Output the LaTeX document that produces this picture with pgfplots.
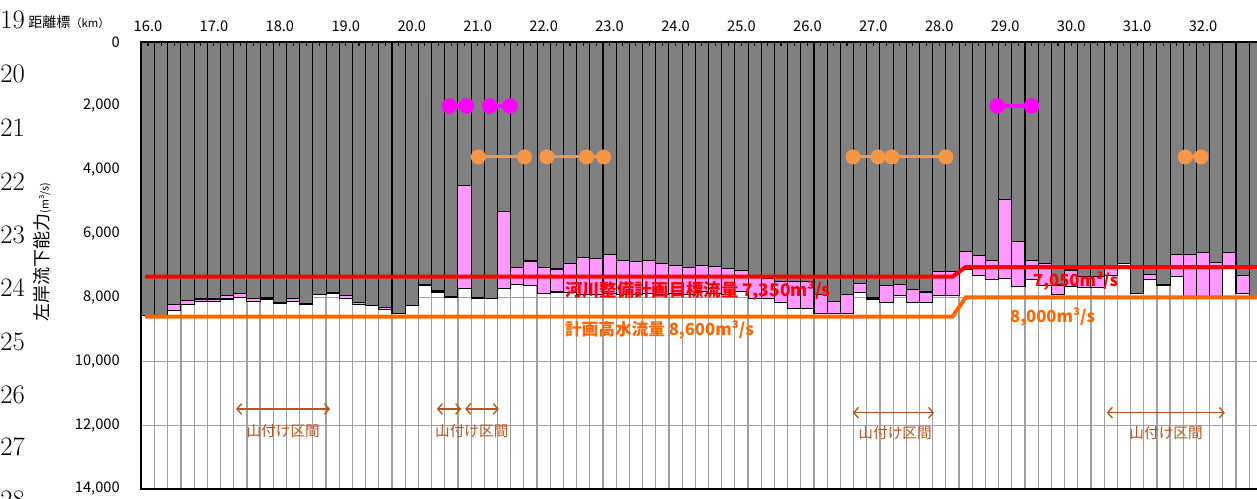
\documentclass[border=0pt]{standalone}
\usepackage{fontspec}
\setmainfont{Noto Sans CJK JP}
\newfontfamily\lmr{Latin Modern Roman}
\usepackage{pgfplots}
\usepackage{pgfplotstable}
\pgfplotsset{compat=1.18}
\usetikzlibrary{arrows.meta}

\definecolor{barGray}{HTML}{808080}
\definecolor{barPink}{HTML}{FF99FF}
\definecolor{gridGray}{HTML}{A0A0A0}
\definecolor{lineRed}{HTML}{FF0000}
\definecolor{lineOrange}{HTML}{FF6600}
\definecolor{dotOrange}{HTML}{F79646}
\definecolor{dotMagenta}{HTML}{FF00FF}
\definecolor{noteBrown}{HTML}{B8541C}

\pgfplotsset{
  /pgfplots/layers/barsunder/.define layer set={
    axis background,axis grid,main,axis ticks,axis lines,axis tick labels,
    axis descriptions,axis foreground
  }{/pgfplots/layers/standard},
}

% km, bottom of grey bar (g), bottom of pink bar (p)
\pgfplotstableread{
km g p
16.0 8580 8580
16.2 8600 8600
16.4 8230 8410
16.6 8100 8230
16.8 8050 8140
17.0 8050 8140
17.2 7950 8050
17.4 7890 8000
17.6 8040 8140
17.8 7990 8050
18.0 8170 8200
18.2 8040 8130
18.4 8180 8230
18.6 7900 7900
18.8 7850 7880
19.0 7950 8040
19.2 8170 8230
19.4 8260 8260
19.6 8310 8390
19.8 8500 8500
20.0 8250 8250
20.2 7600 7640
20.4 7770 7830
20.6 7960 7990
20.8 4490 7715
21.0 8010 8040
21.2 8040 8040
21.4 5300 7715
21.6 7060 7590
21.8 6860 7630
22.0 7060 7870
22.2 7110 7830
22.4 6930 7850
22.6 6740 7900
22.8 6790 7900
23.0 6650 7880
23.2 6830 7900
23.4 6880 7920
23.6 6830 7880
23.8 6930 7900
24.0 6990 7880
24.2 7060 7900
24.4 6990 7820
24.6 7040 7880
24.8 7100 7900
25.0 7150 7820
25.2 7350 8030
25.4 7400 8030
25.6 7510 8160
25.8 7510 8340
26.0 7510 8340
26.2 7920 8500
26.4 8130 8500
26.6 7920 8500
26.8 7560 7850
27.0 8000 8050
27.2 7640 8170
27.4 7600 7940
27.6 7740 8150
27.8 7830 8160
28.0 7200 7950
28.2 7200 7950
28.4 6560 7120
28.6 6700 7320
28.8 6840 7450
29.0 4930 7400
29.2 6240 7670
29.4 6850 7450
29.6 6930 7620
29.8 7610 7920
30.0 7140 7660
30.2 7330 7680
30.4 7330 7680
30.6 7090 7300
30.8 6930 6930
31.0 7870 7870
31.2 7280 7450
31.4 7610 7610
31.6 6670 7350
31.8 6670 7960
32.0 6600 7960
32.2 6910 7960
32.4 6600 7090
32.6 7300 7870
32.8 7990 7990
}\capdata

\begin{document}
\begin{tikzpicture}
% one reference pixel = 0.75pt; y runs downward as negative
\foreach \n/\yy in {19/-15,20/-55.5,21/-96,22/-136.5,23/-176.25,24/-216,25/-256.5,26/-296.25,27/-335.25,28/-375}
  \node[anchor=west, inner sep=0pt, font=\lmr\fontsize{20}{24}\selectfont] at (0pt,\yy pt) {\n};

\node[anchor=west, inner sep=0pt, font=\fontsize{10.5}{12}\selectfont] at (21pt,-16.5pt)
  {距離標{\fontsize{8.5}{10}\selectfont（km）}};
\node[rotate=90, inner sep=0pt, font=\fontsize{13.5}{15}\selectfont] at (31.5pt,-189pt)
  {左岸流下能力{\fontsize{8}{9}\selectfont(m³/s)}};

\begin{axis}[
  at={(105.75pt,-31.5pt)}, anchor=north west,
  scale only axis, width=840.75pt, height=335.25pt,
  set layers=barsunder,
  xmin=15.894, xmax=32.894, ymin=0, ymax=14000, y dir=reverse,
  ybar, bar width=0.2, bar shift=0pt,
  axis line style={black, line width=1.2pt},
  xtick={16,...,32}, minor x tick num=4,
  xtick pos=upper, xticklabel pos=upper,
  tick align=inside, major tick length=3pt, minor tick length=3pt,
  xtick style={black, line width=0.8pt},
  ytick={0,2000,...,14000}, ytick style={draw=none}, scaled y ticks=false,
  ymajorgrids, grid style={draw=gridGray, line width=0.9pt},
  extra x ticks={15.9,16.1,...,32.9}, extra x tick labels={},
  extra x tick style={grid=major, major tick length=0pt, tick style={draw=none}},
  x tick label style={font=\fontsize{11}{12}\selectfont, anchor=south, inner sep=0pt, yshift=7.5pt,
    /pgf/number format/fixed, /pgf/number format/fixed zerofill,
    /pgf/number format/precision=1, /pgf/number format/assume math mode=true},
  y tick label style={font=\fontsize{11}{12}\selectfont, anchor=east, inner sep=0pt, xshift=-15.75pt,
    /pgf/number format/1000 sep={,}, /pgf/number format/assume math mode=true},
]
\addplot[fill=barPink, draw=black, line width=0.8pt] table[x=km, y=p] {\capdata};
\addplot[fill=barGray, draw=black, line width=0.8pt] table[x=km, y=g] {\capdata};

% target flows
\addplot[sharp plot, lineRed, line width=3pt] coordinates {(15.955,7350) (28.2,7350) (28.4,7050) (32.9,7050)};
\addplot[sharp plot, lineOrange, line width=3pt] coordinates {(15.955,8600) (28.2,8600) (28.4,8000) (32.9,8000)};

% magenta and orange dot ranges
\addplot[sharp plot, dotMagenta, line width=2.6pt, mark=*, mark size=4.5pt, mark options={draw=none, fill=dotMagenta}]
  coordinates {(20.57,2000) (20.83,2000)};
\addplot[sharp plot, dotMagenta, line width=2.6pt, mark=*, mark size=4.5pt, mark options={draw=none, fill=dotMagenta}]
  coordinates {(21.18,2000) (21.49,2000)};
\addplot[sharp plot, dotMagenta, line width=2.6pt, mark=*, mark size=4.5pt, mark options={draw=none, fill=dotMagenta}]
  coordinates {(28.88,2000) (29.40,2000)};
\addplot[sharp plot, dotOrange, line width=2.2pt, mark=*, mark size=4.5pt, mark options={draw=none, fill=dotOrange}]
  coordinates {(21.01,3600) (21.71,3600)};
\addplot[sharp plot, dotOrange, line width=2.2pt, mark=*, mark size=4.5pt, mark options={draw=none, fill=dotOrange}]
  coordinates {(22.05,3600) (22.65,3600) (22.91,3600)};
\addplot[sharp plot, dotOrange, line width=2.2pt, mark=*, mark size=4.5pt, mark options={draw=none, fill=dotOrange}]
  coordinates {(26.69,3600) (27.07,3600) (27.28,3600) (28.10,3600)};
\addplot[sharp plot, dotOrange, line width=2.2pt, mark=*, mark size=4.5pt, mark options={draw=none, fill=dotOrange}]
  coordinates {(31.73,3600) (31.97,3600)};

% labels of the flow lines
\node[anchor=west, inner sep=0pt, text=lineRed, font=\bfseries\fontsize{13}{14}\selectfont]
  at (axis cs:22.32,7800) {河川整備計画目標流量 7,350m³/s};
\node[anchor=west, inner sep=0pt, text=lineOrange, font=\bfseries\fontsize{12.5}{14}\selectfont]
  at (axis cs:22.32,9020) {計画高水流量 8,600m³/s};
\node[anchor=west, inner sep=0pt, text=lineRed, font=\bfseries\fontsize{12.5}{14}\selectfont]
  at (axis cs:29.42,7485) {7,050m³/s};
\node[anchor=west, inner sep=0pt, text=lineOrange, font=\bfseries\fontsize{12.5}{14}\selectfont]
  at (axis cs:29.07,8613) {8,000m³/s};

% hillside reaches
\draw[noteBrown, line width=1pt, {Straight Barb[length=3.5pt,width=8pt]}-{Straight Barb[length=3.5pt,width=8pt]}]
  (axis cs:17.335,11494) -- (axis cs:18.76,11494);
\draw[noteBrown, line width=1pt, {Straight Barb[length=3.5pt,width=8pt]}-{Straight Barb[length=3.5pt,width=8pt]}]
  (axis cs:20.38,11494) -- (axis cs:20.75,11494);
\draw[noteBrown, line width=1pt, {Straight Barb[length=3.5pt,width=8pt]}-{Straight Barb[length=3.5pt,width=8pt]}]
  (axis cs:20.81,11494) -- (axis cs:21.32,11494);
\draw[noteBrown, line width=1pt, {Straight Barb[length=3.5pt,width=8pt]}-{Straight Barb[length=3.5pt,width=8pt]}]
  (axis cs:26.69,11610) -- (axis cs:27.92,11610);
\draw[noteBrown, line width=1pt, {Straight Barb[length=3.5pt,width=8pt]}-{Straight Barb[length=3.5pt,width=8pt]}]
  (axis cs:30.54,11610) -- (axis cs:32.33,11610);
\node[text=noteBrown, inner sep=0pt, font=\fontsize{11}{12}\selectfont] at (axis cs:18.05,12183) {山付け区間};
\node[text=noteBrown, inner sep=0pt, font=\fontsize{11}{12}\selectfont] at (axis cs:20.91,12183) {山付け区間};
\node[text=noteBrown, inner sep=0pt, font=\fontsize{11}{12}\selectfont] at (axis cs:27.33,12236) {山付け区間};
\node[text=noteBrown, inner sep=0pt, font=\fontsize{11}{12}\selectfont] at (axis cs:31.44,12236) {山付け区間};
\end{axis}

\pgfresetboundingbox
\useasboundingbox (0pt,0pt) rectangle (942.75pt,-374.25pt);
\end{tikzpicture}
\end{document}
